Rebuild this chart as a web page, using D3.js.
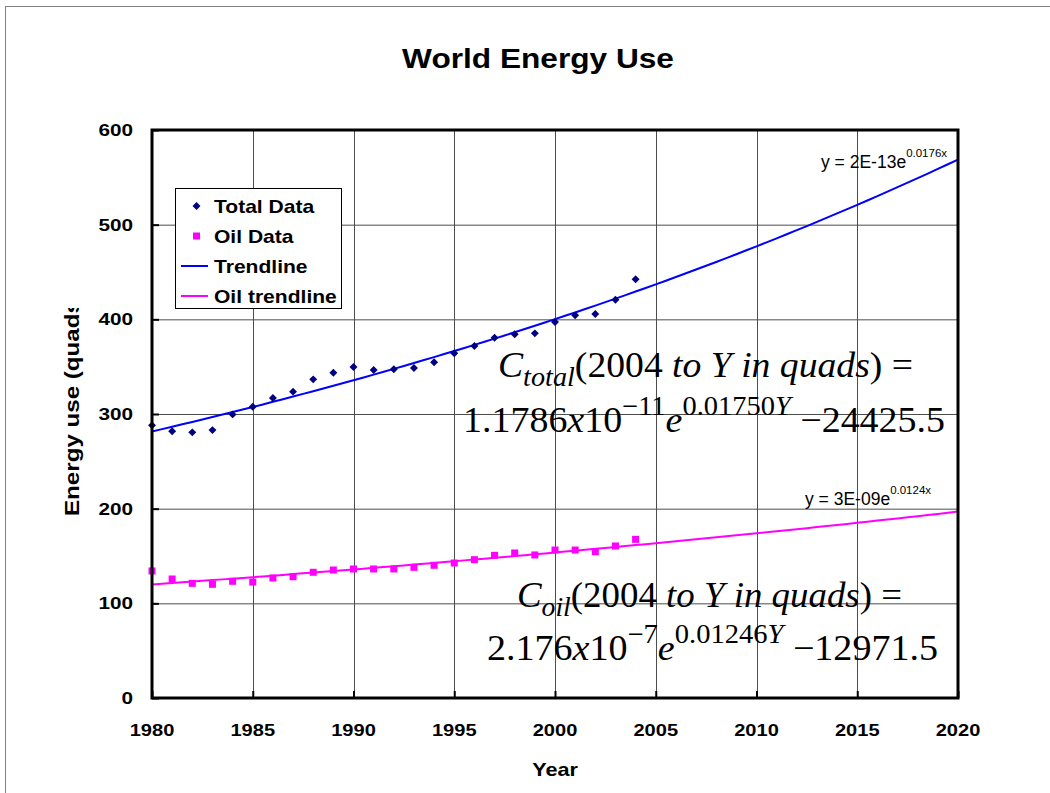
<!DOCTYPE html>
<html>
<head>
<meta charset="utf-8">
<script src="https://cdn.jsdelivr.net/npm/d3@7"></script>
<style>
  html, body { margin: 0; padding: 0; background: #fff; }
  svg { display: block; }
</style>
</head>
<body>
<svg id="chart" width="1050" height="793"></svg>
<script>
// World energy use, 1980-2004, with exponential trendlines projected to 2020
const years = [1980, 1981, 1982, 1983, 1984, 1985, 1986, 1987, 1988, 1989,
               1990, 1991, 1992, 1993, 1994, 1995, 1996, 1997, 1998, 1999,
               2000, 2001, 2002, 2003, 2004];
const totalData = [288, 281.7, 280.6, 283, 299.6, 307.7, 316.9, 323.6, 336.6, 343.6,
                   349.6, 346.5, 347.2, 348.6, 354.6, 364.1, 371.8, 380.6, 384.2, 385.2,
                   397.2, 404.2, 405.6, 420.7, 442.3];
const oilData = [134.2, 125.7, 121.1, 120.1, 123.3, 122.5, 126.8, 128.1, 132.8, 135.2,
                 136.3, 136.3, 136.3, 138, 140.2, 142.6, 146.1, 150.7, 153.2, 151.1,
                 156.3, 156.3, 154.5, 160.6, 167.6];
const xTicks = [1980, 1985, 1990, 1995, 2000, 2005, 2010, 2015, 2020];
const yTicks = [0, 100, 200, 300, 400, 500, 600];
const legendLabels = ["Total Data", "Oil Data", "Trendline", "Oil trendline"];
const trendLabels = [
  { base: "y = 2E-13e", exp: "0.0176x" },
  { base: "y = 3E-09e", exp: "0.0124x" }
];
// Projection formulas, as segments: s = sub/sup, i = italic
const eqTotal = [
  [{ t: "C", i: 1 }, { t: "total", i: 1, s: "sub" }, { t: "(2004 " }, { t: "to Y in quads", i: 1 }, { t: ") =" }],
  [{ t: "1.1786" }, { t: "x", i: 1 }, { t: "10" }, { t: "\u221211", s: "sup" }, { t: "e", i: 1 },
   { t: "0.01750", s: "sup" }, { t: "Y", i: 1, s: "sup" }, { t: " \u221224425.5" }]
];
const eqOil = [
  [{ t: "C", i: 1 }, { t: "oil", i: 1, s: "sub" }, { t: "(2004 " }, { t: "to Y in quads", i: 1 }, { t: ") =" }],
  [{ t: "2.176" }, { t: "x", i: 1 }, { t: "10" }, { t: "\u22127", s: "sup" }, { t: "e", i: 1 },
   { t: "0.01246", s: "sup" }, { t: "Y", i: 1, s: "sup" }, { t: " \u221212971.5" }]
];

const svg = d3.select("#chart");
const W = 1050, H = 793;
const plot = { left: 152, right: 958, top: 130, bottom: 698 };

const x = d3.scaleLinear().domain([1980, 2020]).range([plot.left, plot.right]);
const y = d3.scaleLinear().domain([0, 600]).range([plot.bottom, plot.top]);

const SANS = "Arial, 'Liberation Sans', Helvetica, sans-serif";
const SERIF = "'Times New Roman', 'Liberation Serif', serif";

// outer chart-area border
svg.append("rect")
  .attr("x", 5.5).attr("y", 6.5).attr("width", W + 20).attr("height", H + 20)
  .attr("fill", "none").attr("stroke", "#808080").attr("stroke-width", 1);

// horizontally widened text helper
function wideText(g, px, py, txt, size, sx, anchor, weight) {
  return g.append("text")
    .attr("transform", `translate(${px},${py}) scale(${sx},1)`)
    .attr("text-anchor", anchor || "start")
    .attr("font-family", SANS)
    .attr("font-weight", weight || "bold")
    .attr("font-size", size)
    .attr("fill", "#000")
    .text(txt);
}

// title
wideText(svg, 538, 68, "World Energy Use", 28, 1.13, "middle");

// gridlines
const grid = svg.append("g");
grid.selectAll("line.h").data(yTicks.filter(v => v > 0 && v < 600)).join("line")
  .attr("x1", plot.left).attr("x2", plot.right)
  .attr("y1", d => y(d) + 0.5).attr("y2", d => y(d) + 0.5)
  .attr("stroke", "#4d4d4d").attr("stroke-width", 1);
grid.selectAll("line.v").data(xTicks.filter(v => v > 1980 && v < 2020)).join("line")
  .attr("x1", d => Math.round(x(d)) + 0.5).attr("x2", d => Math.round(x(d)) + 0.5)
  .attr("y1", plot.top).attr("y2", plot.bottom)
  .attr("stroke", "#4d4d4d").attr("stroke-width", 1);

// axes with inward ticks
const xAxis = svg.append("g").attr("transform", `translate(0,${plot.bottom})`)
  .call(d3.axisBottom(x).tickValues(xTicks).tickSize(-7).tickFormat(""));
const yAxis = svg.append("g").attr("transform", `translate(${plot.left},0)`)
  .call(d3.axisLeft(y).tickValues(yTicks).tickSize(-7).tickFormat(""));
[xAxis, yAxis].forEach(a => {
  a.select(".domain").remove();
  a.selectAll(".tick line").attr("stroke", "#000").attr("stroke-width", 2);
});

// tick labels
yTicks.forEach(v => wideText(svg, 133, y(v) + 6, String(v), 17, 1.22, "end"));
xTicks.forEach(v => wideText(svg, x(v), 736, String(v), 17, 1.18, "middle"));

// axis titles
wideText(svg, 555, 776, "Year", 18, 1.2, "middle");
svg.append("clipPath").attr("id", "ytitle-clip")
  .append("rect").attr("x", 0).attr("y", 308).attr("width", 140).attr("height", 400);
svg.append("g").attr("clip-path", "url(#ytitle-clip)")
  .append("text")
  .attr("transform", "translate(79,516) rotate(-90) scale(1.15,1)")
  .attr("font-family", SANS).attr("font-weight", "bold").attr("font-size", 21)
  .text("Energy use (quads)");

// exponential least-squares fit (log-linear), as a spreadsheet trendline does
function expFit(xs, ys) {
  const ly = ys.map(Math.log);
  const mx = d3.mean(xs), my = d3.mean(ly);
  const b = d3.sum(xs, (v, i) => (v - mx) * (ly[i] - my)) / d3.sum(xs, v => (v - mx) ** 2);
  const lnA = my - b * mx;
  return t => Math.exp(lnA + b * t);
}
const trendYears = d3.range(1980, 2020.01, 0.5);
const totalFit = expFit(years, totalData);
const oilFit = expFit(years, oilData);

const line = d3.line().x(d => x(d[0])).y(d => y(d[1]));
const plotG = svg.append("g");
plotG.append("path")
  .datum(trendYears.map(t => [t, totalFit(t)]))
  .attr("d", line).attr("fill", "none").attr("stroke", "#0000ff").attr("stroke-width", 2);
plotG.append("path")
  .datum(trendYears.map(t => [t, oilFit(t)]))
  .attr("d", line).attr("fill", "none").attr("stroke", "#ff00ff").attr("stroke-width", 2);

// markers
const diamond = d3.symbol().type(d3.symbolDiamond2).size(40);
plotG.selectAll("path.total").data(years).join("path")
  .attr("class", "total")
  .attr("transform", (d, i) => `translate(${x(d)},${y(totalData[i])})`)
  .attr("d", diamond).attr("fill", "#000080");
plotG.selectAll("rect.oil").data(years).join("rect")
  .attr("class", "oil")
  .attr("x", d => x(d) - 3.5).attr("y", (d, i) => y(oilData[i]) - 3.5)
  .attr("width", 7).attr("height", 7).attr("fill", "#ff00ff");

// plot frame
svg.append("rect")
  .attr("x", plot.left).attr("y", plot.top)
  .attr("width", plot.right - plot.left).attr("height", plot.bottom - plot.top)
  .attr("fill", "none").attr("stroke", "#000").attr("stroke-width", 3);

// trendline equations (spreadsheet style)
function trendLabel(px, py, lab) {
  const t = svg.append("text")
    .attr("x", px).attr("y", py)
    .attr("font-family", SANS).attr("font-size", 17.5).attr("fill", "#000");
  t.append("tspan").text(lab.base);
  t.append("tspan").attr("dy", -11).attr("font-size", 11.5).text(lab.exp);
}
trendLabel(821, 168, trendLabels[0]);
trendLabel(805, 505, trendLabels[1]);

// projection formulas
function formula(px, py, width, segs) {
  const t = svg.append("text")
    .attr("x", px).attr("y", py)
    .attr("font-family", SERIF).attr("font-size", 36).attr("fill", "#000")
    .attr("textLength", width).attr("lengthAdjust", "spacingAndGlyphs");
  let shift = 0;
  segs.forEach(s => {
    const target = s.s === "sub" ? 9 : s.s === "sup" ? -17 : 0;
    t.append("tspan")
      .attr("dy", target - shift)
      .attr("font-size", s.s ? 27 : 36)
      .attr("font-style", s.i ? "italic" : "normal")
      .text(s.t);
    shift = target;
  });
}
formula(498, 377, 415, eqTotal[0]);
formula(463, 432, 482, eqTotal[1]);
formula(517, 607, 385, eqOil[0]);
formula(487, 660, 451, eqOil[1]);

// legend
const lg = svg.append("g");
lg.append("rect").attr("x", 175.5).attr("y", 188.5).attr("width", 166).attr("height", 120)
  .attr("fill", "#fff").attr("stroke", "#000").attr("stroke-width", 1);
const rowY = [206, 236, 266, 296];
lg.append("path").attr("transform", `translate(196.5,${rowY[0]})`)
  .attr("d", diamond).attr("fill", "#000080");
lg.append("rect").attr("x", 193).attr("y", rowY[1] - 3.5).attr("width", 7).attr("height", 7)
  .attr("fill", "#ff00ff");
lg.append("line").attr("x1", 181).attr("x2", 208).attr("y1", rowY[2]).attr("y2", rowY[2])
  .attr("stroke", "#0000ff").attr("stroke-width", 2);
lg.append("line").attr("x1", 181).attr("x2", 208).attr("y1", rowY[3]).attr("y2", rowY[3])
  .attr("stroke", "#ff00ff").attr("stroke-width", 2);
legendLabels.forEach((s, i) => wideText(lg, 214, rowY[i] + 6.5, s, 18, 1.17, "start"));
</script>
</body>
</html>
